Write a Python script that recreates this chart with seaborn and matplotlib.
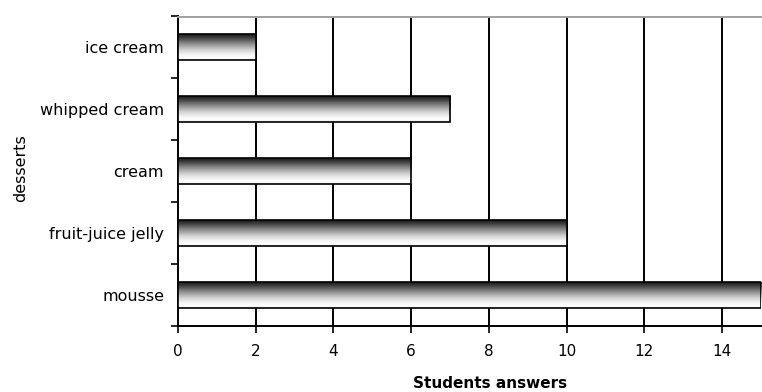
import numpy as np
import matplotlib
matplotlib.use("Agg")
import matplotlib.pyplot as plt
import seaborn as sns
import pandas as pd
from matplotlib.colors import LinearSegmentedColormap

desserts = ["ice cream", "whipped cream", "cream", "fruit-juice jelly", "mousse"]
answers = [2, 7, 6, 10, 15]
x_ticks = [0, 2, 4, 6, 8, 10, 12, 14]

sns.set_theme(style="white")
plt.rcParams["font.family"] = ["DejaVu Sans"]
plt.rcParams["text.color"] = "black"
plt.rcParams["axes.labelcolor"] = "black"
plt.rcParams["xtick.color"] = "black"
plt.rcParams["ytick.color"] = "black"

df = pd.DataFrame({"dessert": desserts, "answers": answers})

fig = plt.figure(figsize=(7.62, 3.92), dpi=100)
ax = fig.add_axes([178 / 762, 1 - 326 / 392, 583 / 762, (326 - 16.5) / 392])

sns.barplot(data=df, x="answers", y="dessert", order=desserts, orient="h",
            width=0.42, color="white", edgecolor="black", linewidth=1.2,
            ax=ax, zorder=3)

# cylinder-style shading: dark at the top edge, white towards the bottom
shade = LinearSegmentedColormap.from_list(
    "shade",
    [(0.0, "#1a1a1a"), (0.12, "#383838"), (0.35, "#868686"),
     (0.6, "#d0d0d0"), (0.8, "#f6f6f6"), (0.92, "#ffffff"), (1.0, "#e8e8e8")])
grad = np.linspace(0, 1, 256).reshape(-1, 1)
for patch in ax.patches:
    x0, y0 = patch.get_x(), patch.get_y()
    w, h = patch.get_width(), patch.get_height()
    # y axis is inverted for categorical bars: y0 is the visual top
    im = ax.imshow(grad, cmap=shade, aspect="auto", interpolation="bilinear",
                   extent=(x0, x0 + w, y0 + h, y0), zorder=3.5)
    im.set_clip_path(patch)
    patch.set_facecolor("none")
    patch.set_zorder(4)

ax.set_xlim(0, 15)
ax.set_ylim(len(desserts) - 0.5, -0.5)
ax.set_aspect("auto")

ax.set_xticks(x_ticks)
ax.set_xticklabels([str(t) for t in x_ticks], fontsize=11)
ax.set_yticks(range(len(desserts)))
ax.set_yticklabels(desserts, fontsize=11.5)
ax.tick_params(axis="y", length=0, pad=10)
ax.tick_params(axis="x", length=5, width=1.2, color="black", direction="out",
               bottom=True, pad=8)
# boundary ticks between categories on the y axis
ax.set_yticks(np.arange(-0.5, len(desserts), 1.0), minor=True)
ax.tick_params(axis="y", which="minor", length=5, width=1.2, color="black",
               direction="out", left=True)

ax.grid(False)
for x in x_ticks[1:]:
    ax.axvline(x, color="black", linewidth=1.4, zorder=1)

for side in ["left", "bottom"]:
    ax.spines[side].set_color("black")
    ax.spines[side].set_linewidth(1.4)
ax.spines["top"].set_color("#a0a0a0")
ax.spines["top"].set_linewidth(1.4)
ax.spines["right"].set_visible(False)

ax.set_ylabel("desserts", fontsize=11.5)
ax.set_xlabel("Students answers", fontsize=11, fontweight="bold")
ax.yaxis.set_label_coords(-150 / 583, 0.51)
ax.xaxis.set_label_coords((490 - 178) / 583, -50 / 309.5)

fig.savefig("out.png", dpi=100, facecolor="white")
